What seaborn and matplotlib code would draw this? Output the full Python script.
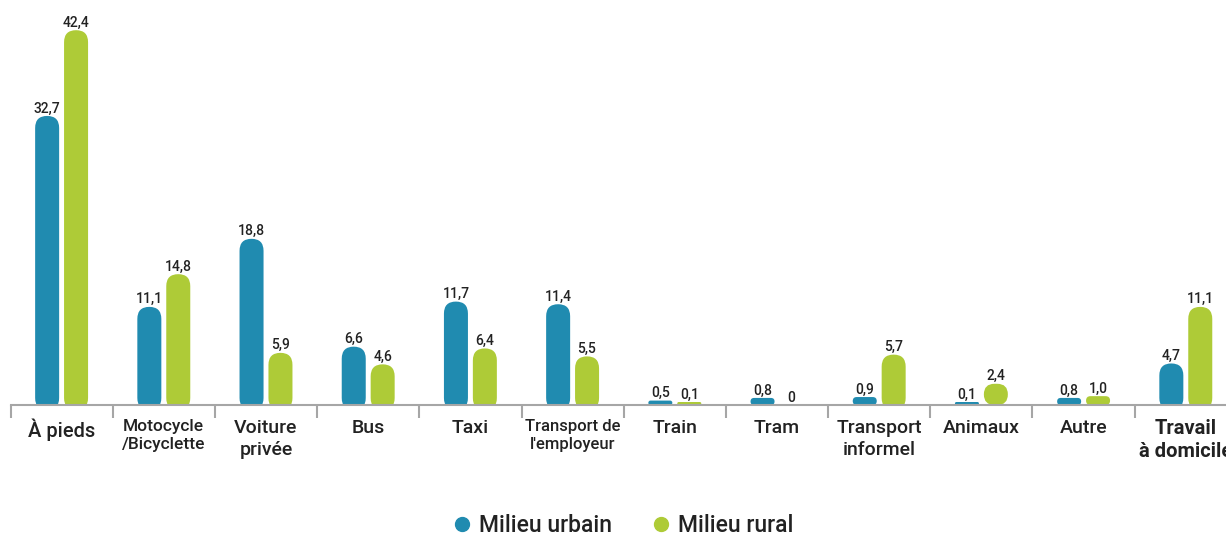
import matplotlib
matplotlib.use("Agg")
import matplotlib.pyplot as plt
from matplotlib.patches import FancyBboxPatch
from matplotlib.lines import Line2D
import seaborn as sns
import pandas as pd

categories = ["À pieds", "Motocycle\n/Bicyclette", "Voiture\nprivée", "Bus", "Taxi",
              "Transport de\nl'employeur", "Train", "Tram", "Transport\ninformel",
              "Animaux", "Autre", "Travail\nà domicile"]
urbain = [32.7, 11.1, 18.8, 6.6, 11.7, 11.4, 0.5, 0.8, 0.9, 0.1, 0.8, 4.7]
rural = [42.4, 14.8, 5.9, 4.6, 6.4, 5.5, 0.1, 0, 5.7, 2.4, 1.0, 11.1]
series = ["Milieu urbain", "Milieu rural"]
colors = ["#208bb0", "#aecb37"]

df = pd.DataFrame({
    "cat": categories * 2,
    "milieu": [series[0]] * len(urbain) + [series[1]] * len(rural),
    "val": urbain + rural,
})

sns.set_style("white")
plt.rcParams["font.family"] = ["Roboto", "DejaVu Sans"]

W, H = 1226, 536
step = 102.2      # px per category
left = 10.5       # px of first tick
base = 405        # px of baseline from top
ppu = 8.84        # px per unit on y

fig = plt.figure(figsize=(W / 100, H / 100), dpi=100)
ax = fig.add_axes([left / W, (H - base) / H, 12 * step / W, base / H])
ax.patch.set_alpha(0)

sns.barplot(data=df, x="cat", y="val", hue="milieu", palette=colors,
            width=0.566, gap=0.17, saturation=1, errorbar=None,
            legend=False, ax=ax)
ax.set_xlim(-0.5, 11.5)
ax.set_ylim(0, base / ppu)

# swap the plain bars for rounded ones (bottom part is clipped by the axes)
aspect = step / ppu
for cont in ax.containers:
    for p in cont.patches:
        x, w, h = p.get_x(), p.get_width(), p.get_height()
        fc = p.get_facecolor()
        p.set_visible(False)
        txt = "0" if h == 0 else f"{h:.1f}".replace(".", ",")
        if h > 0:
            h = max(h, 3 / ppu)
            y0 = 0
            if h / aspect > w:
                y0 = -5 / ppu
            r = min(w / 2, (h - y0) / aspect / 2)
            ax.add_patch(FancyBboxPatch((x, y0), w, h - y0,
                         boxstyle=f"round,pad=0,rounding_size={r}",
                         mutation_aspect=aspect, fc=fc, ec="none", lw=0))
        ax.annotate(txt, (x + w / 2, h), xytext=(0, 2.5), textcoords="offset points",
                    ha="center", va="baseline", fontsize=10, color="#222222",
                    fontweight="medium")

ax.set_xticks(range(len(categories)))
ax.set_xticklabels(categories)
ax.set_xticks([i - 0.5 for i in range(len(categories) + 1)], minor=True)
ax.tick_params(axis="x", which="major", length=0, pad=10)
ax.tick_params(axis="x", which="minor", length=9, width=1.5, color="#a6a6a6",
               direction="out", bottom=True)
ax.set_yticks([])
ax.set_xlabel("")
ax.set_ylabel("")
sns.despine(ax=ax, left=True)
ax.spines["bottom"].set_color("#a6a6a6")
ax.spines["bottom"].set_linewidth(1.5)

sizes = [14.5, 12.5, 14, 14, 14, 12, 14, 14, 14, 14, 14, 14.5]
for lab, s in zip(ax.get_xticklabels(), sizes):
    lab.set_fontsize(s)
    lab.set_color("#222222")
    lab.set_fontweight("medium")
    lab.set_linespacing(1.3)
ax.get_xticklabels()[-1].set_fontweight("bold")

handles = [Line2D([], [], marker="o", ls="", ms=10, mfc=c, mec=c) for c in colors]
fig.legend(handles, series, loc="center", bbox_to_anchor=(622 / W, 1 - 526 / H),
           ncol=2, frameon=False, handletextpad=0.25,
           columnspacing=1.6, handlelength=1, labelcolor="#222222",
           prop={"weight": "medium", "size": 16.5})

fig.savefig("out.png", dpi=100)
